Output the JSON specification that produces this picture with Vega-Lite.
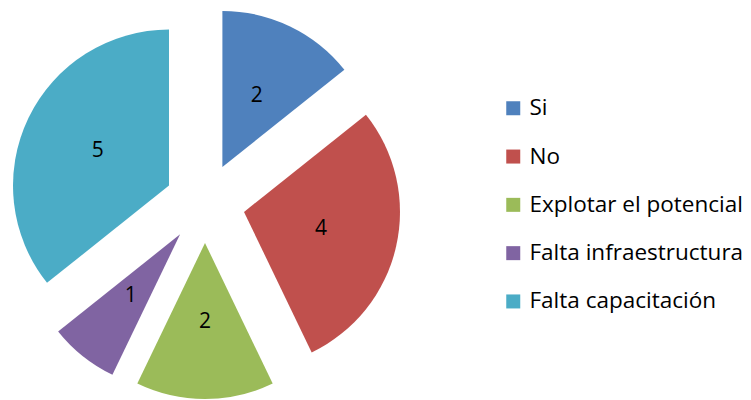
{
  "$schema": "https://vega.github.io/schema/vega-lite/v6.json",
  "width": 410,
  "height": 400,
  "padding": 0,
  "autosize": {"type": "pad"},
  "background": "white",
  "config": {"view": {"stroke": null}},
  "data": {
    "values": [
      {"cat": "Si", "value": 2, "orden": 1},
      {"cat": "No", "value": 4, "orden": 2},
      {"cat": "Explotar el potencial", "value": 2, "orden": 3},
      {"cat": "Falta infraestructura", "value": 1, "orden": 4},
      {"cat": "Falta capacitación", "value": 5, "orden": 5}
    ]
  },
  "layer": [
    {
      "transform": [
        {"stack": "value", "groupby": [], "sort": [{"field": "orden"}], "as": ["t0", "t1"]},
        {"filter": "datum.cat === 'Si'"}
      ],
      "mark": {"type": "arc", "radius": 156, "xOffset": 17.4, "yOffset": -33},
      "encoding": {
        "theta": {"field": "t0", "type": "quantitative", "scale": {"domain": [0, 14]}},
        "theta2": {"field": "t1"},
        "color": {
          "field": "cat", "type": "nominal",
          "scale": {"domain": ["Si", "No", "Explotar el potencial", "Falta infraestructura", "Falta capacitación"],
                    "range": ["#4F81BD", "#C0504D", "#9BBB59", "#8064A2", "#4BACC6"]},
          "legend": {
            "title": null, "orient": "none", "legendX": 502, "legendY": 97,
            "symbolType": "square", "symbolSize": 196, "symbolStrokeWidth": 0,
            "labelFont": "Open Sans", "labelFontSize": 22.5, "labelColor": "black",
            "labelOffset": 5, "rowPadding": 25.3, "labelLimit": 300
          }
        }
      }
    },
    {
      "transform": [
        {"stack": "value", "groupby": [], "sort": [{"field": "orden"}], "as": ["t0", "t1"]},
        {"filter": "datum.cat === 'No'"}
      ],
      "mark": {"type": "arc", "radius": 156, "xOffset": 39, "yOffset": 11.9},
      "encoding": {
        "theta": {"field": "t0", "type": "quantitative", "scale": {"domain": [0, 14]}},
        "theta2": {"field": "t1"},
        "color": {"field": "cat", "type": "nominal"}
      }
    },
    {
      "transform": [
        {"stack": "value", "groupby": [], "sort": [{"field": "orden"}], "as": ["t0", "t1"]},
        {"filter": "datum.cat === 'Explotar el potencial'"}
      ],
      "mark": {"type": "arc", "radius": 156, "xOffset": 0, "yOffset": 43},
      "encoding": {
        "theta": {"field": "t0", "type": "quantitative", "scale": {"domain": [0, 14]}},
        "theta2": {"field": "t1"},
        "color": {"field": "cat", "type": "nominal"}
      }
    },
    {
      "transform": [
        {"stack": "value", "groupby": [], "sort": [{"field": "orden"}], "as": ["t0", "t1"]},
        {"filter": "datum.cat === 'Falta infraestructura'"}
      ],
      "mark": {"type": "arc", "radius": 156, "xOffset": -24.9, "yOffset": 34.3},
      "encoding": {
        "theta": {"field": "t0", "type": "quantitative", "scale": {"domain": [0, 14]}},
        "theta2": {"field": "t1"},
        "color": {"field": "cat", "type": "nominal"}
      }
    },
    {
      "transform": [
        {"stack": "value", "groupby": [], "sort": [{"field": "orden"}], "as": ["t0", "t1"]},
        {"filter": "datum.cat === 'Falta capacitación'"}
      ],
      "mark": {"type": "arc", "radius": 156, "xOffset": -36, "yOffset": -14.4},
      "encoding": {
        "theta": {"field": "t0", "type": "quantitative", "scale": {"domain": [0, 14]}},
        "theta2": {"field": "t1"},
        "color": {"field": "cat", "type": "nominal"}
      }
    },
    {
      "mark": {"type": "text", "radius": 119, "yOffset": 3, "font": "Open Sans", "fontSize": 21, "color": "black", "baseline": "middle", "align": "center"},
      "encoding": {
        "theta": {"field": "value", "type": "quantitative", "stack": true, "scale": {"domain": [0, 14]}},
        "order": {"field": "orden", "type": "quantitative"},
        "text": {"field": "value", "type": "quantitative"}
      }
    }
  ]
}
